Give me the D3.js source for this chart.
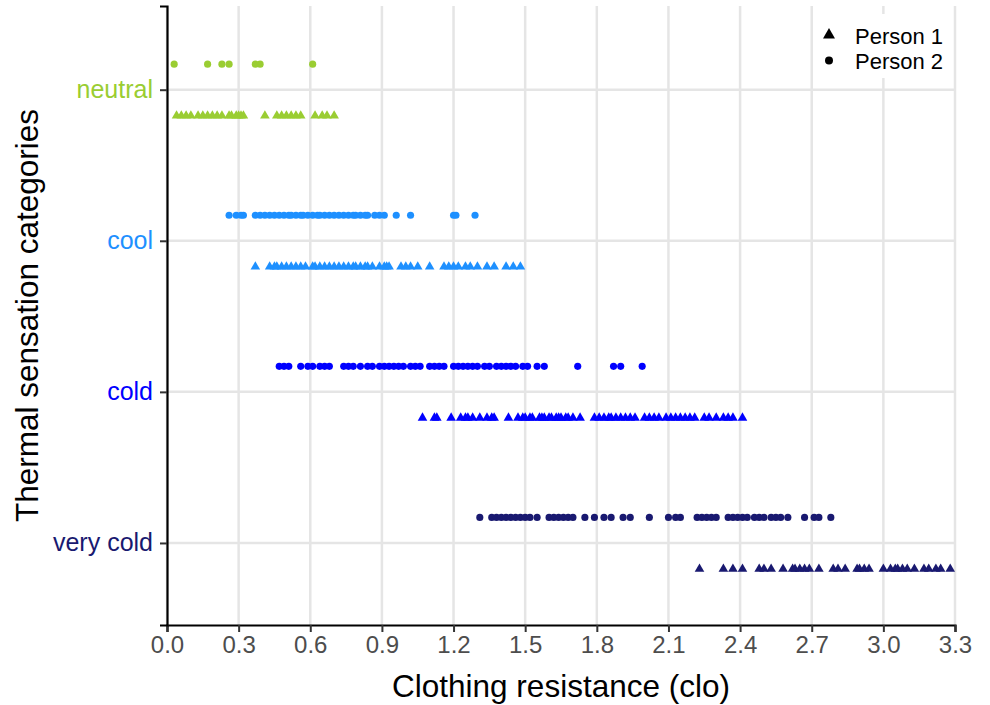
<!DOCTYPE html>
<html>
<head>
<meta charset="utf-8">
<script src="https://cdn.jsdelivr.net/npm/d3@7"></script>
<style>
  body { margin: 0; background: #fff; }
  text { font-family: "Liberation Sans", Arial, sans-serif; }
</style>
</head>
<body>
<svg id="chart" width="990" height="705"></svg>
<script>
// categories, bottom to top
const categories = ["very cold", "cold", "cool", "neutral"];
const catColors = ["#191970", "#0000FF", "#1E90FF", "#9ACD32"];
const xTicks = [0, 0.3, 0.6, 0.9, 1.2, 1.5, 1.8, 2.1, 2.4, 2.7, 3.0, 3.3];
const persons = ["Person 1", "Person 2"];

// clothing resistance (clo) values
const neutralP1 = [0.04, 0.06, 0.08, 0.10, 0.13, 0.15, 0.17, 0.19, 0.21, 0.23, 0.26, 0.27, 0.29, 0.30, 0.31, 0.32, 0.41, 0.46, 0.48, 0.50, 0.52, 0.54, 0.56, 0.62, 0.65, 0.67, 0.70];
const neutralP2 = [0.03, 0.17, 0.23, 0.26, 0.37, 0.39, 0.61];
const coolP1 = [0.37, 0.43, 0.45, 0.46, 0.48, 0.50, 0.52, 0.54, 0.56, 0.58, 0.61, 0.62, 0.64, 0.66, 0.68, 0.70, 0.72, 0.74, 0.76, 0.78, 0.79, 0.81, 0.83, 0.84, 0.86, 0.89, 0.91, 0.92, 0.93, 0.98, 1.00, 1.02, 1.05, 1.10, 1.16, 1.18, 1.20, 1.22, 1.25, 1.27, 1.30, 1.34, 1.37, 1.42, 1.45, 1.48];
const coolP2 = [0.26, 0.29, 0.31, 0.32, 0.37, 0.39, 0.41, 0.43, 0.45, 0.47, 0.49, 0.51, 0.52, 0.54, 0.56, 0.57, 0.59, 0.61, 0.63, 0.64, 0.66, 0.68, 0.70, 0.72, 0.74, 0.76, 0.78, 0.79, 0.81, 0.83, 0.84, 0.87, 0.89, 0.91, 0.96, 1.02, 1.20, 1.21, 1.29];
const coldP1 = [1.07, 1.12, 1.13, 1.19, 1.23, 1.25, 1.26, 1.28, 1.31, 1.34, 1.36, 1.37, 1.43, 1.47, 1.49, 1.50, 1.52, 1.53, 1.56, 1.57, 1.58, 1.60, 1.61, 1.63, 1.64, 1.65, 1.67, 1.68, 1.70, 1.73, 1.79, 1.81, 1.83, 1.85, 1.86, 1.88, 1.90, 1.92, 1.94, 1.96, 2.00, 2.02, 2.04, 2.06, 2.09, 2.11, 2.13, 2.15, 2.17, 2.19, 2.21, 2.25, 2.27, 2.30, 2.33, 2.35, 2.37, 2.41];
const coldP2 = [0.47, 0.49, 0.51, 0.56, 0.59, 0.61, 0.64, 0.66, 0.68, 0.74, 0.76, 0.78, 0.81, 0.84, 0.86, 0.89, 0.91, 0.93, 0.95, 0.97, 0.99, 1.02, 1.04, 1.06, 1.10, 1.12, 1.14, 1.16, 1.20, 1.22, 1.24, 1.26, 1.28, 1.30, 1.33, 1.35, 1.38, 1.40, 1.42, 1.44, 1.46, 1.49, 1.51, 1.55, 1.58, 1.72, 1.87, 1.90, 1.99];
const veryColdP1 = [2.23, 2.33, 2.37, 2.41, 2.48, 2.50, 2.53, 2.58, 2.62, 2.63, 2.65, 2.67, 2.69, 2.73, 2.79, 2.81, 2.84, 2.89, 2.90, 2.92, 2.94, 3.00, 3.03, 3.05, 3.06, 3.08, 3.10, 3.13, 3.17, 3.19, 3.22, 3.24, 3.28];
const veryColdP2 = [1.31, 1.36, 1.38, 1.40, 1.42, 1.44, 1.46, 1.48, 1.50, 1.52, 1.55, 1.60, 1.62, 1.64, 1.66, 1.68, 1.70, 1.75, 1.79, 1.83, 1.86, 1.91, 1.94, 2.02, 2.10, 2.13, 2.15, 2.22, 2.24, 2.26, 2.28, 2.30, 2.35, 2.37, 2.39, 2.41, 2.43, 2.46, 2.48, 2.50, 2.53, 2.55, 2.57, 2.60, 2.67, 2.71, 2.73, 2.78];

// build one flat list of points
const series = [
  { cat: "very cold", person: "Person 1", values: veryColdP1 },
  { cat: "very cold", person: "Person 2", values: veryColdP2 },
  { cat: "cold", person: "Person 1", values: coldP1 },
  { cat: "cold", person: "Person 2", values: coldP2 },
  { cat: "cool", person: "Person 1", values: coolP1 },
  { cat: "cool", person: "Person 2", values: coolP2 },
  { cat: "neutral", person: "Person 1", values: neutralP1 },
  { cat: "neutral", person: "Person 2", values: neutralP2 }
];
const points = [];
series.forEach(function(s) {
  s.values.forEach(function(v) { points.push({ x: v, cat: s.cat, person: s.person }); });
});

const svg = d3.select("#chart");
const panel = { left: 167, right: 955, top: 6, bottom: 625 };

const x = d3.scaleLinear().domain([0, 3.3]).range([panel.left, panel.right]);
// categories sit on 1..4, with a little room above and below
const y = d3.scaleLinear().domain([0.457, 4.554]).range([panel.bottom, panel.top]);
const catPos = function(c) { return categories.indexOf(c) + 1; };
const color = d3.scaleOrdinal().domain(categories).range(catColors);
const offset = { "Person 1": -0.172, "Person 2": 0.169 };

// grid
const grid = svg.append("g");
grid.selectAll("line.v").data(xTicks).enter().append("line")
  .attr("class", "v")
  .attr("x1", d => x(d)).attr("x2", d => x(d))
  .attr("y1", panel.top).attr("y2", panel.bottom)
  .attr("stroke", "#e5e5e5").attr("stroke-width", 2.5);
grid.selectAll("line.h").data(categories).enter().append("line")
  .attr("class", "h")
  .attr("x1", panel.left).attr("x2", panel.right)
  .attr("y1", d => y(catPos(d))).attr("y2", d => y(catPos(d)))
  .attr("stroke", "#e5e5e5").attr("stroke-width", 2.5);

// points
const shape = { "Person 1": d3.symbolTriangle, "Person 2": d3.symbolCircle };
const symSize = { "Person 1": 40, "Person 2": 40 };
svg.append("g").selectAll("path").data(points).enter().append("path")
  .attr("transform", d => "translate(" + x(d.x) + "," + y(catPos(d.cat) + offset[d.person]) + ")")
  .attr("d", d => d3.symbol().type(shape[d.person]).size(symSize[d.person])())
  .attr("fill", d => color(d.cat));

// x axis
const xAxis = svg.append("g").attr("transform", "translate(0," + panel.bottom + ")")
  .call(d3.axisBottom(x).tickValues(xTicks).tickFormat(d3.format(".1f")).tickSize(7).tickPadding(4));
xAxis.select(".domain").attr("stroke", "#000").attr("stroke-width", 2.2);
xAxis.selectAll(".tick line").attr("stroke", "#333").attr("stroke-width", 2);
xAxis.selectAll(".tick text").attr("fill", "#4d4d4d").style("font-size", "24px")
  .style("font-family", "'Liberation Sans', Arial, sans-serif");

// y axis
const yAxis = svg.append("g").attr("transform", "translate(" + panel.left + ",0)")
  .call(d3.axisLeft(y).tickValues([1, 2, 3, 4]).tickFormat(d => categories[d - 1]).tickSize(7).tickPadding(7));
yAxis.select(".domain").attr("stroke", "#000").attr("stroke-width", 2.2);
yAxis.selectAll(".tick line").attr("stroke", "#333").attr("stroke-width", 2);
yAxis.selectAll(".tick text").attr("fill", d => catColors[d - 1]).style("font-size", "25px")
  .style("font-family", "'Liberation Sans', Arial, sans-serif");

// axis titles
svg.append("text").attr("x", (panel.left + panel.right) / 2).attr("y", 697)
  .attr("text-anchor", "middle").style("font-size", "31.5px").attr("fill", "#000")
  .text("Clothing resistance (clo)");
svg.append("text").attr("transform", "translate(38," + (panel.top + panel.bottom) / 2 + ") rotate(-90)")
  .attr("text-anchor", "middle").style("font-size", "31.5px").attr("fill", "#000")
  .text("Thermal sensation categories");

// legend
const legend = svg.append("g");
legend.append("rect").attr("x", 816).attr("y", 14).attr("width", 134).attr("height", 64).attr("fill", "#fff");
const legRow = legend.selectAll("g").data(persons).enter().append("g")
  .attr("transform", (d, i) => "translate(829," + (35 + i * 25.5) + ")");
legRow.append("path")
  .attr("d", d => d3.symbol().type(shape[d]).size(d === "Person 1" ? 62 : 50)())
  .attr("fill", "#000");
legRow.append("text").attr("x", 26).attr("y", 8.5)
  .style("font-size", "22px").attr("fill", "#000").text(d => d);
</script>
</body>
</html>
